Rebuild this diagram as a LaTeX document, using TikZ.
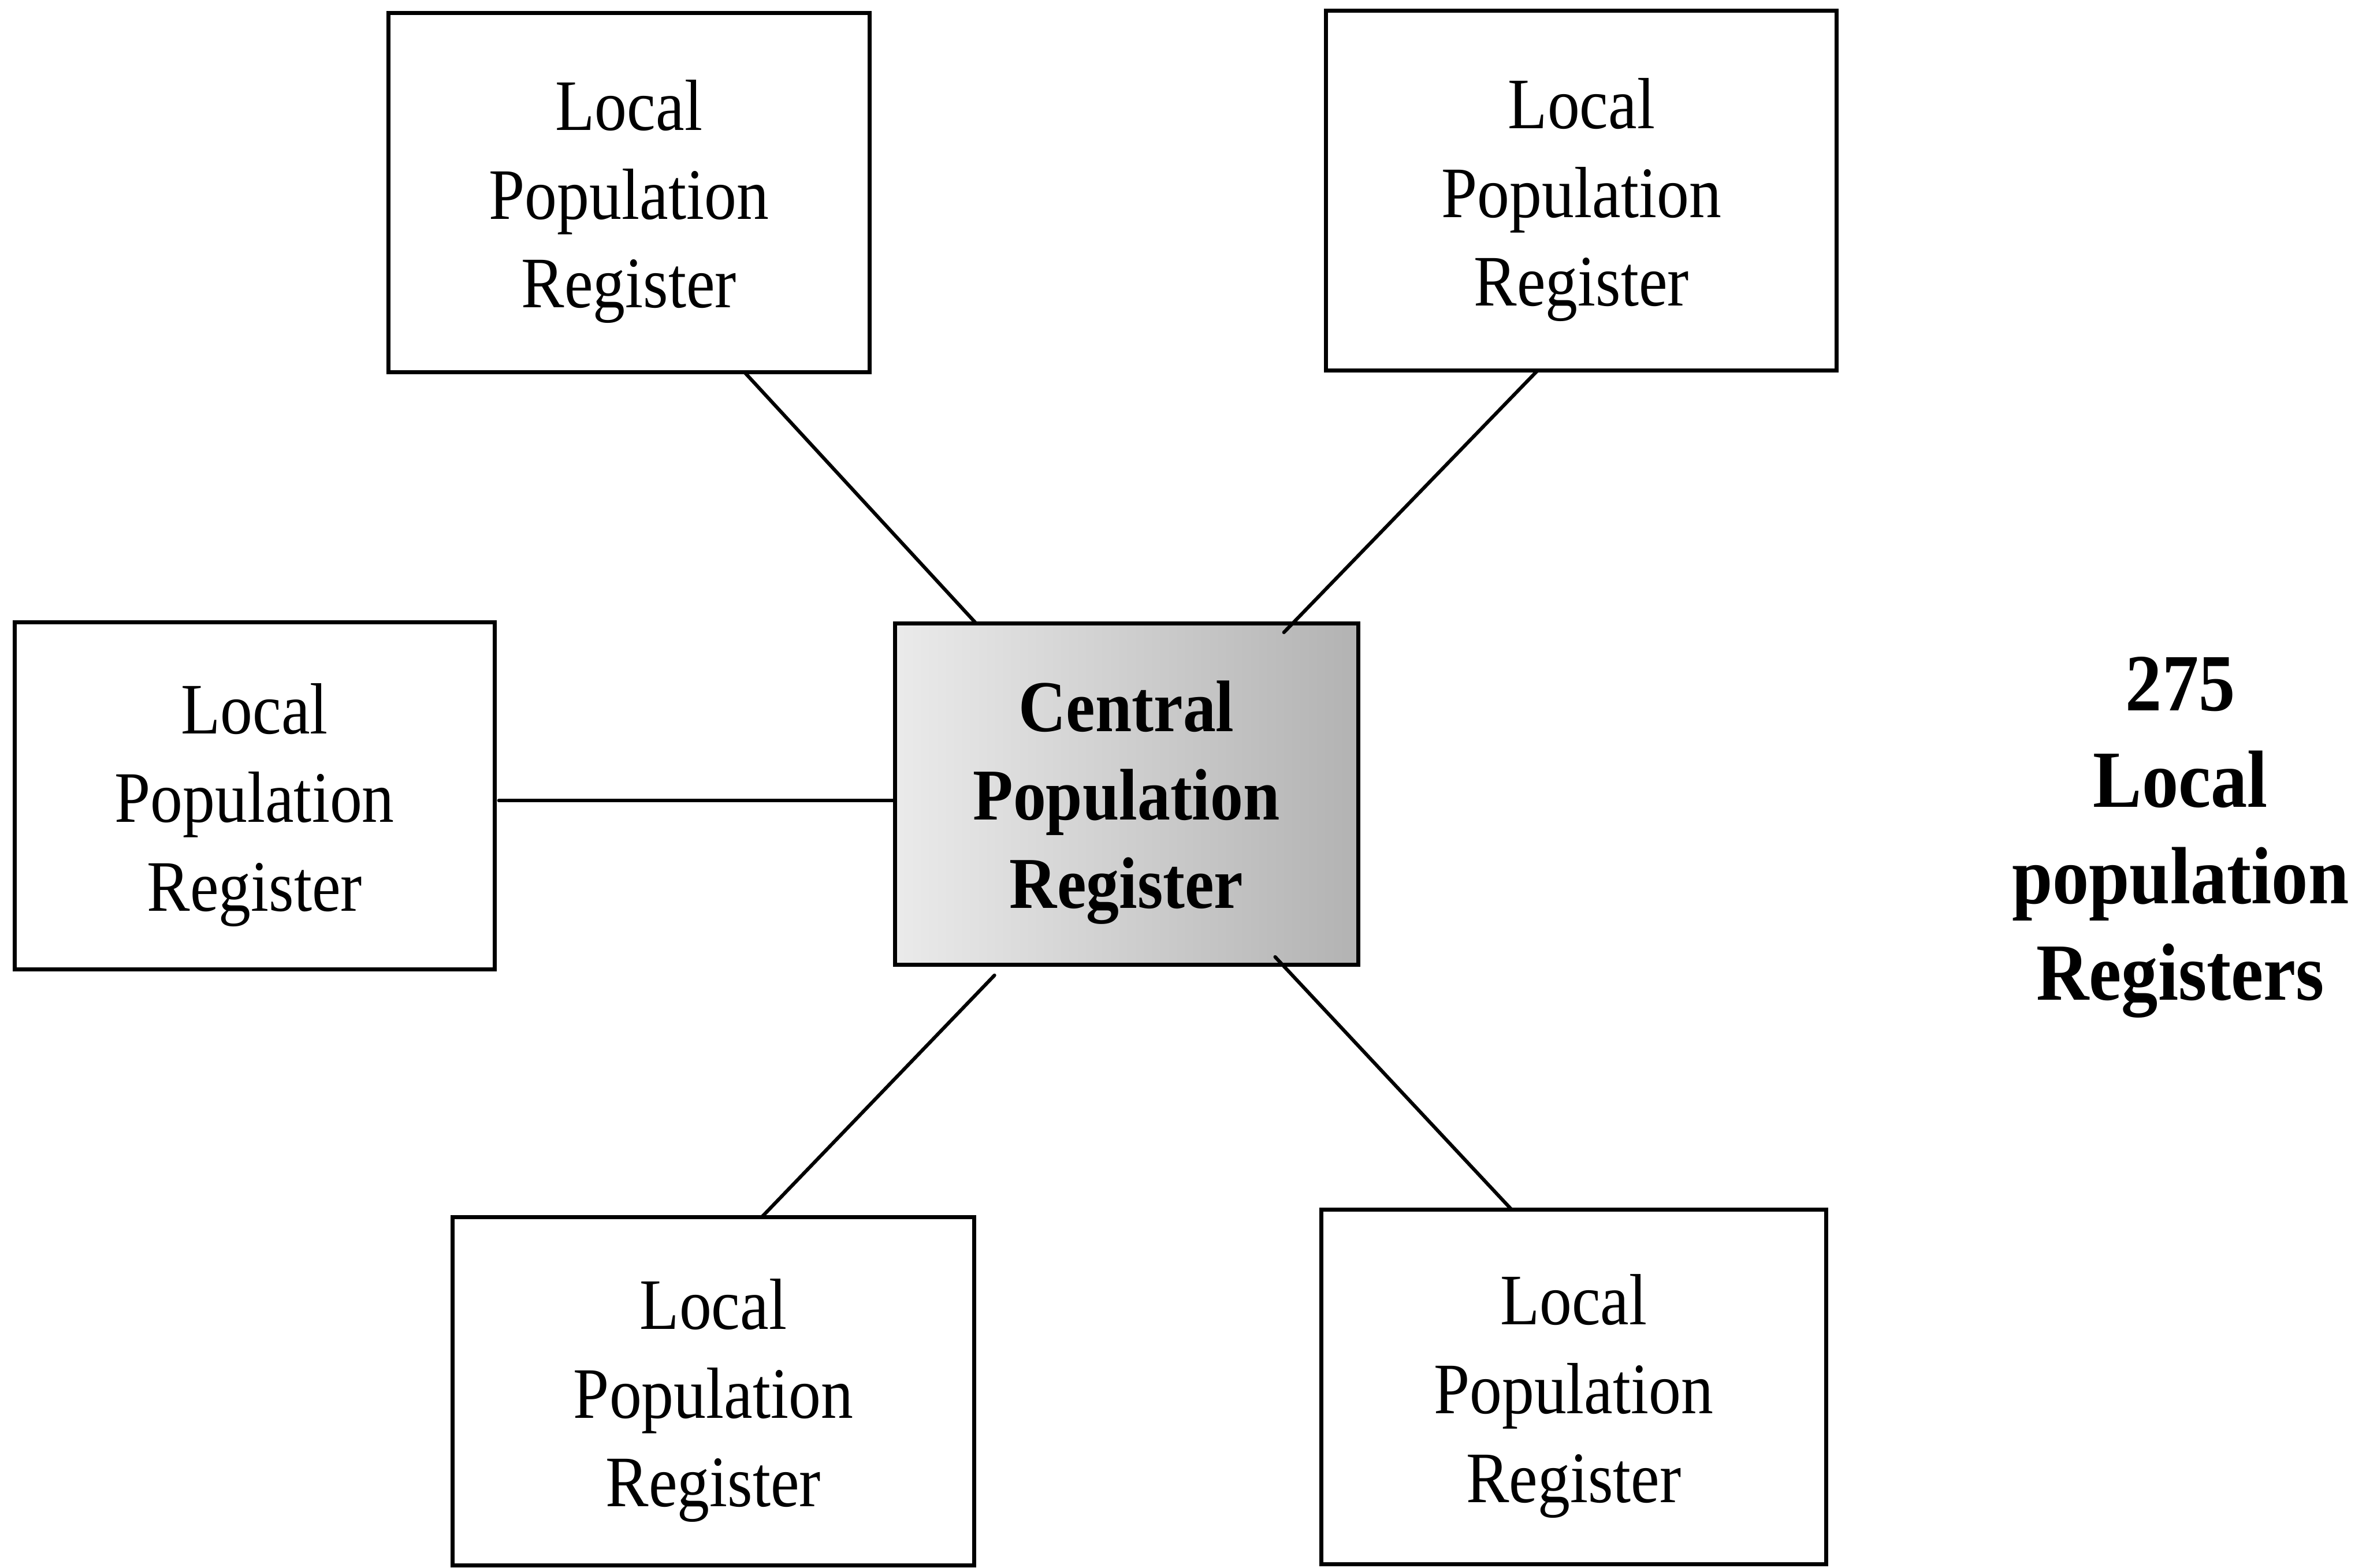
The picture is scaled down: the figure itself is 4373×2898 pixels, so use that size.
\documentclass[tikz,border=0pt]{standalone}
\usepackage{fontspec}
\usetikzlibrary{calc}
\newfontfamily\boxfont{Liberation Serif}[FakeStretch=0.89]
\newfontfamily\heavyfont{Liberation Serif}[FakeStretch=0.9]
\tikzset{
  regbox/.style={draw, line width=0.75pt, rectangle, inner sep=0pt, outer sep=0pt},
  regtext/.style={align=center, inner sep=0pt, yshift=-1.7pt,
    font=\boxfont\fontsize{13.4pt}{16.4pt}\selectfont},
  localreg/.style={regbox, label={[regtext]center:Local\\Population\\Register}},
  centraltext/.style={align=center, inner sep=0pt, yshift=-1.5pt,
    font=\heavyfont\bfseries\fontsize{13.5pt}{16.3pt}\selectfont},
  centralbox/.style={regbox, left color=black!8, right color=black!30,
    label={[centraltext]center:Central\\Population\\Register}},
  link/.style={line width=0.65pt, line cap=round},
  note/.style={align=center, inner sep=0pt,
    font=\heavyfont\bfseries\fontsize{15pt}{17.8pt}\selectfont}
}
\begin{document}
% one unit is one tenth of a point, y grows downwards
\begin{tikzpicture}[x=0.1pt, y=-0.1pt]
  \useasboundingbox (0,0) rectangle (4373,2898);
  % local registers around the central one
  \node[localreg, minimum width=88.9pt, minimum height=66.4pt] (tl) at (1162.5,356) {};
  \node[localreg, minimum width=94.4pt, minimum height=66.5pt] (tr) at (2923,352.5) {};
  \node[localreg, minimum width=88.7pt, minimum height=64.2pt] (lft) at (470.5,1471) {};
  \node[localreg, minimum width=96.5pt, minimum height=64.3pt] (bl) at (1318.5,2572) {};
  \node[localreg, minimum width=93.3pt, minimum height=65.6pt] (br) at (2908.5,2564) {};
  % central register
  \node[centralbox, minimum width=85.6pt, minimum height=63.1pt] (ctr) at (2082,1468.5) {};
  % count of local registers
  \node[note] (count) at (4030,1548) {275\\Local\\population\\Registers};
  % connectors
  \draw[link] ($(tl.south west)!0.740!(tl.south east)$)
    -- ($(ctr.north west)!0.176!(ctr.north east)$);
  \draw[link] ($(tr.south west)!0.414!(tr.south east)$)
    -- ($($(ctr.north west)!0.840!(ctr.north east)$)+(0,16)$);
  \coordinate (lstart) at ($(lft.east)+(8,9)$);
  \draw[link] (lstart) -- (lstart -| ctr.west);
  \draw[link] ($($(ctr.south west)!0.215!(ctr.south east)$)+(0,19)$)
    -- ($(bl.north west)!0.592!(bl.north east)$);
  \draw[link] ($($(ctr.south west)!0.821!(ctr.south east)$)+(0,-15)$)
    -- ($(br.north west)!0.377!(br.north east)$);
\end{tikzpicture}
\end{document}
